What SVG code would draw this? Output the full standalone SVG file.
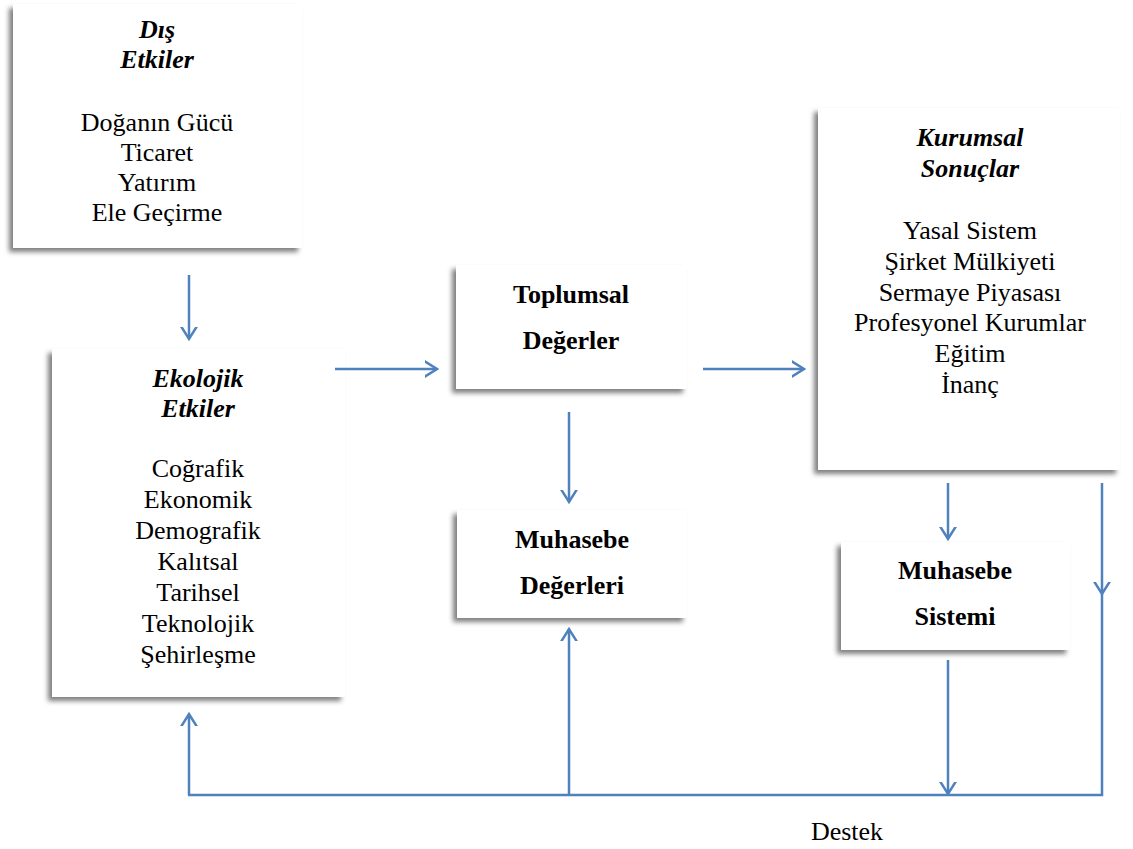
<svg xmlns="http://www.w3.org/2000/svg" width="1133" height="849" viewBox="0 0 1133 849">
<defs>
<filter id="sh" x="-10%" y="-10%" width="120%" height="120%">
<feDropShadow dx="-4" dy="4" stdDeviation="2.5" flood-color="#000" flood-opacity="0.5"/>
</filter>
<marker id="ah" markerUnits="userSpaceOnUse" viewBox="-12 -12 24 24" markerWidth="24" markerHeight="24" refX="0" refY="0" orient="auto">
<path d="M-16,-10 L0,0 L-16,10" fill="none" stroke="#4F81BD" stroke-width="2.5"/>
</marker>
</defs>
<style>
.box{fill:#fff;filter:url(#sh)}
text{font-family:"Liberation Serif","Times New Roman",serif;font-size:26px;fill:#000;text-anchor:middle}
.bi{font-weight:bold;font-style:italic}
.b{font-weight:bold}
.c{fill:none;stroke:#4F81BD;stroke-width:2.5}
</style>
<rect width="1133" height="849" fill="#fff"/>
<g id="dis">
<rect class="box" x="13" y="4" width="289" height="244"/>
<text class="bi" x="157" y="38">Dış</text>
<text class="bi" x="157" y="68">Etkiler</text>
<text x="157" y="131">Doğanın Gücü</text>
<text x="157" y="161">Ticaret</text>
<text x="157" y="191">Yatırım</text>
<text x="157" y="221">Ele Geçirme</text>
</g>
<g id="ekolojik">
<rect class="box" x="52" y="349" width="293" height="348"/>
<text class="bi" x="198" y="387">Ekolojik</text>
<text class="bi" x="198" y="417">Etkiler</text>
<text x="198" y="477">Coğrafik</text>
<text x="198" y="508">Ekonomik</text>
<text x="198" y="539">Demografik</text>
<text x="198" y="570">Kalıtsal</text>
<text x="198" y="601">Tarihsel</text>
<text x="198" y="632">Teknolojik</text>
<text x="198" y="663">Şehirleşme</text>
</g>
<g id="toplumsal">
<rect class="box" x="456" y="265" width="231" height="124"/>
<text class="b" x="571" y="303">Toplumsal</text>
<text class="b" x="571" y="349">Değerler</text>
</g>
<g id="muhdeg">
<rect class="box" x="457" y="510" width="230" height="108"/>
<text class="b" x="572" y="548">Muhasebe</text>
<text class="b" x="572" y="594">Değerleri</text>
</g>
<g id="kurumsal">
<rect class="box" x="818" y="108" width="302" height="362"/>
<text class="bi" x="970" y="146">Kurumsal</text>
<text class="bi" x="970" y="177">Sonuçlar</text>
<text x="970" y="239">Yasal Sistem</text>
<text x="970" y="270">Şirket Mülkiyeti</text>
<text x="970" y="301">Sermaye Piyasası</text>
<text x="970" y="331">Profesyonel Kurumlar</text>
<text x="970" y="362">Eğitim</text>
<text x="970" y="393">İnanç</text>
</g>
<g id="muhsis">
<rect class="box" x="841" y="542" width="229" height="108"/>
<text class="b" x="955" y="579">Muhasebe</text>
<text class="b" x="955" y="625">Sistemi</text>
</g>
<g id="connectors">
<path class="c" d="M189,275 V339" marker-end="url(#ah)"/>
<path class="c" d="M335,369 H437" marker-end="url(#ah)"/>
<path class="c" d="M703,369 H804" marker-end="url(#ah)"/>
<path class="c" d="M569,412 V502" marker-end="url(#ah)"/>
<path class="c" d="M948,483 V539" marker-end="url(#ah)"/>
<path class="c" d="M1102,483 V594" marker-end="url(#ah)"/>
<path class="c" d="M1102,594 V795 H188"/>
<path class="c" d="M948,660 V794" marker-end="url(#ah)"/>
<path class="c" d="M189,795 V714" marker-end="url(#ah)"/>
<path class="c" d="M569,795 V629" marker-end="url(#ah)"/>
</g>
<text x="847" y="840">Destek</text>
</svg>
